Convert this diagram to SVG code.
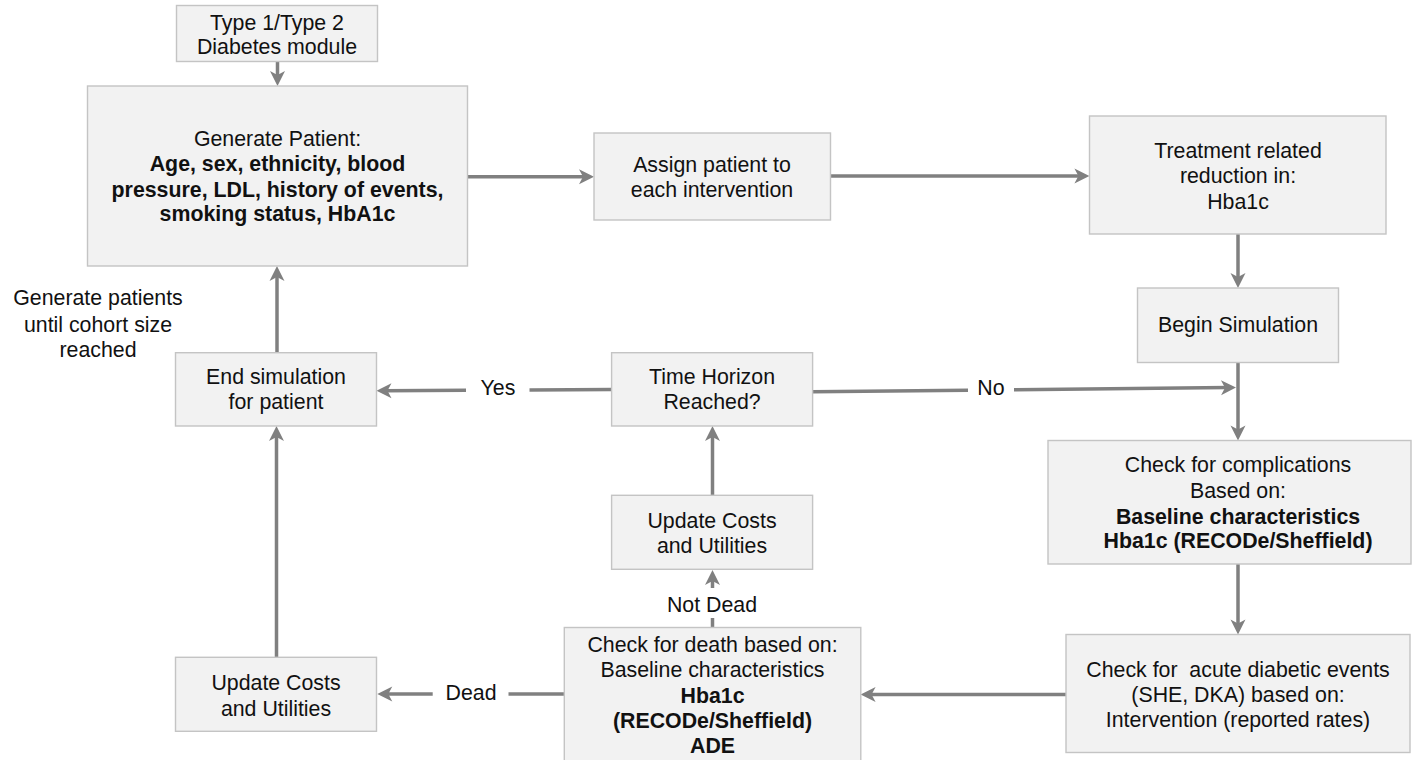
<svg xmlns="http://www.w3.org/2000/svg" width="1413" height="760" viewBox="0 0 1413 760">
<style>
.box{fill:#f2f2f2;stroke:#c4c4c4;stroke-width:1.4}
.t{font-family:"Liberation Sans",Arial,sans-serif;font-size:21.33px;text-anchor:middle;fill:#111}
.b{font-weight:bold}
.c{fill:none;stroke:#808080;stroke-width:3.5}
.a{marker-end:url(#ah)}
</style>
<defs>
<marker id="ah" markerUnits="userSpaceOnUse" markerWidth="16" markerHeight="16" refX="7" refY="7.5" orient="auto" overflow="visible">
<path d="M0,0 L15,7.5 L0,15 L4,7.5 Z" fill="#808080"/>
</marker>
</defs>
<rect width="1413" height="760" fill="#ffffff"/>

<g id="connectors">
<path class="c a" d="M277.5,61.5 V78"/>
<path class="c a" d="M467.7,176.7 H586"/>
<path class="c a" d="M830.4,176 H1081.4"/>
<path class="c a" d="M1238,234 V280"/>
<path class="c a" d="M1238,362.5 V432.5"/>
<path class="c a" d="M1238,564 V626.5"/>
<path class="c a" d="M1066,694.5 H868.6"/>
<path class="c" d="M565,694 H508.5"/>
<path class="c a" d="M432.7,694 H385.3"/>
<path class="c" d="M712.5,627.5 V618"/>
<path class="c a" d="M712.5,588 V578"/>
<path class="c a" d="M712.5,495.3 V434"/>
<path class="c" d="M611.6,389.5 L529.5,390"/>
<path class="c a" d="M466,390.3 L384.5,390.7"/>
<path class="c" d="M812.5,391.7 L968,390.2"/>
<path class="c a" d="M1014,389.7 L1228,387.6"/>
<path class="c a" d="M276.5,657.3 V434"/>
<path class="c a" d="M277,352.7 V274"/>
<text class="t" x="471" y="700">Dead</text>
<text class="t" x="712" y="611.7">Not Dead</text>
<text class="t" x="498" y="394.5">Yes</text>
<text class="t" x="991" y="395">No</text>
</g>

<g id="type-module">
<rect class="box" x="176.5" y="5.5" width="201" height="56"/>
<text class="t" x="277" y="29.5">Type 1/Type 2</text>
<text class="t" x="277" y="53.5">Diabetes module</text>
</g>

<g id="generate-patient">
<rect class="box" x="87.5" y="86" width="380" height="180"/>
<text class="t" x="277.5" y="146">Generate Patient:</text>
<text class="t b" x="277.5" y="171">Age, sex, ethnicity, blood</text>
<text class="t b" x="277.5" y="196.5">pressure, LDL, history of events,</text>
<text class="t b" x="277.5" y="221">smoking status, HbA1c</text>
</g>

<g id="assign">
<rect class="box" x="594" y="133" width="236.5" height="87"/>
<text class="t" x="712" y="171.7">Assign patient to</text>
<text class="t" x="712" y="197">each intervention</text>
</g>

<g id="treatment">
<rect class="box" x="1089.5" y="116" width="296.5" height="118"/>
<text class="t" x="1238" y="157.5">Treatment related</text>
<text class="t" x="1238" y="183">reduction in:</text>
<text class="t" x="1238" y="208.5">Hba1c</text>
</g>

<g id="begin-simulation">
<rect class="box" x="1137.5" y="288" width="201" height="74.5"/>
<text class="t" x="1238" y="332">Begin Simulation</text>
</g>

<g id="check-complications">
<rect class="box" x="1048" y="440.5" width="363" height="123.5"/>
<text class="t" x="1238" y="471.7">Check for complications</text>
<text class="t" x="1238" y="497.7">Based on:</text>
<text class="t b" x="1238" y="524">Baseline characteristics</text>
<text class="t b" x="1238" y="548.3">Hba1c (RECODe/Sheffield)</text>
</g>

<g id="check-acute">
<rect class="box" x="1066" y="634.5" width="344" height="118"/>
<text class="t" x="1238" y="676.7" style="white-space:pre">Check for  acute diabetic events</text>
<text class="t" x="1238" y="701.7">(SHE, DKA) based on:</text>
<text class="t" x="1238" y="726.7">Intervention (reported rates)</text>
</g>

<g id="check-death">
<rect class="box" x="564.3" y="627.5" width="296.5" height="140"/>
<text class="t" x="712.5" y="651.7">Check for death based on:</text>
<text class="t" x="712.5" y="676.7">Baseline characteristics</text>
<text class="t b" x="712.5" y="702.7">Hba1c</text>
<text class="t b" x="712.5" y="728.3">(RECODe/Sheffield)</text>
<text class="t b" x="712.5" y="753.3">ADE</text>
</g>

<g id="time-horizon">
<rect class="box" x="611.6" y="352.7" width="201" height="73.3"/>
<text class="t" x="712" y="384.3">Time Horizon</text>
<text class="t" x="712" y="409.3">Reached?</text>
</g>

<g id="update-costs-alive">
<rect class="box" x="611.6" y="495.3" width="201" height="74"/>
<text class="t" x="712" y="528.3">Update Costs</text>
<text class="t" x="712" y="553.3">and Utilities</text>
</g>

<g id="end-simulation">
<rect class="box" x="175.5" y="352.7" width="201" height="73.3"/>
<text class="t" x="276" y="384.3">End simulation</text>
<text class="t" x="276" y="409.3">for patient</text>
</g>

<g id="update-costs-dead">
<rect class="box" x="175.5" y="657.3" width="201" height="74"/>
<text class="t" x="276" y="690">Update Costs</text>
<text class="t" x="276" y="716">and Utilities</text>
</g>

<g id="cohort-note">
<text class="t" x="98" y="305">Generate patients</text>
<text class="t" x="98" y="331.5">until cohort size</text>
<text class="t" x="98" y="356.5">reached</text>
</g>
</svg>
